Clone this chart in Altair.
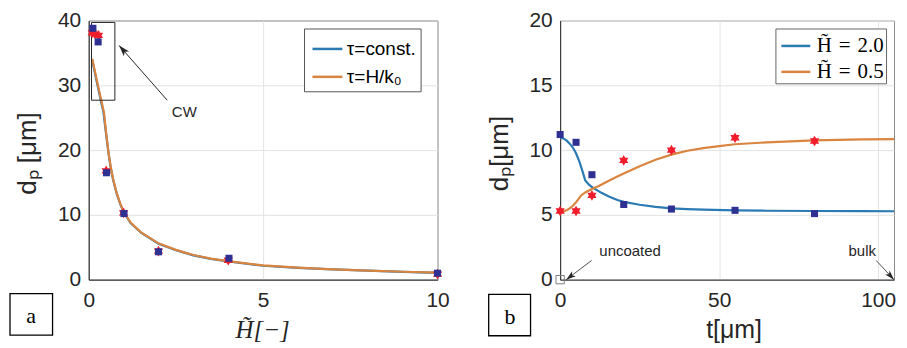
import altair as alt
import pandas as pd

BLUE = "#2a7ab3"
ORANGE = "#d9843f"
NAVY = "#2e3192"
RED = "#f01e2c"
AX = "#262626"
GRID = "#e3e3e3"
SANS = "Liberation Sans"
SERIF = "Liberation Serif"

STAR = ("M0,-1L0.2887,-0.5L0.866,-0.5L0.5774,0L0.866,0.5L0.2887,0.5L0,1"
        "L-0.2887,0.5L-0.866,0.5L-0.5774,0L-0.866,-0.5L-0.2887,-0.5Z")
ARROW = "M0,0L0.5,1.6L0,1.2L-0.5,1.6Z"

# ---------------- panel a data ----------------
a_series = ["τ=const.", "τ=H/k₀"]
a_const_x = [0.1, 0.2, 0.3, 0.36, 0.42, 0.5, 0.57, 0.63, 0.7, 0.8, 0.9, 1.0, 1.2, 1.5,
             2.0, 2.5, 3.0, 3.5, 4.0, 5.0, 6.0, 7.0, 8.0, 9.0, 10.0]
a_const_y = [33.9, 31.3, 28.8, 27.3, 25.9, 22.4, 19.4, 17.3, 15.4, 13.3, 11.7, 10.45, 8.75, 7.25,
             5.55, 4.55, 3.75, 3.2, 2.8, 2.15, 1.82, 1.58, 1.38, 1.2, 1.06]
a_hk_x = [0.1, 0.2, 0.3, 0.38, 0.44, 0.5, 0.57, 0.63, 0.7, 0.8, 0.9, 1.0, 1.2, 1.5,
          2.0, 2.5, 3.0, 3.5, 4.0, 5.0, 6.0, 7.0, 8.0, 9.0, 10.0]
a_hk_y = [34.1, 31.6, 29.1, 27.2, 25.7, 22.6, 19.5, 17.4, 15.5, 13.4, 11.8, 10.5, 8.8, 7.3,
          5.6, 4.6, 3.8, 3.25, 2.85, 2.2, 1.85, 1.6, 1.4, 1.22, 1.08]
a_sq_x = [0.12, 0.27, 0.51, 1.01, 2.0, 4.02, 10.0]
a_sq_y = [38.8, 36.7, 16.5, 10.2, 4.3, 3.3, 1.0]
a_st_x = [0.1, 0.18, 0.28, 0.5, 1.0, 2.0, 4.0, 10.0]
a_st_y = [38.1, 37.9, 37.7, 16.8, 10.3, 4.4, 3.0, 0.85]

# ---------------- panel b data ----------------
SP = "\u2004"
b_series = ["H\u0303" + SP + "=" + SP + "2.0", "H\u0303" + SP + "=" + SP + "0.5"]
b_h2_x = [0, 1, 2, 3, 4, 5, 6, 7, 7.9, 9, 10, 11.3, 13, 15.5, 18, 20, 25, 30, 35, 40, 45,
          55, 65, 80, 95, 105]
b_h2_y = [10.95, 10.9, 10.75, 10.5, 10.2, 9.75, 9.15, 8.4, 7.65, 7.35, 7.15, 6.95, 6.7, 6.4,
          6.15, 6.0, 5.78, 5.62, 5.5, 5.44, 5.4, 5.35, 5.32, 5.3, 5.29, 5.28]
b_h05_x = [0, 1, 2, 3, 4, 5, 6.6, 8, 10, 12.3, 15, 17.5, 20, 25, 30, 35, 40, 45, 50, 55, 65,
           80, 95, 105]
b_h05_y = [5.2, 5.25, 5.35, 5.5, 5.7, 5.97, 6.5, 6.75, 7.0, 7.25, 7.6, 7.9, 8.2, 8.75, 9.25,
           9.65, 9.95, 10.15, 10.3, 10.45, 10.6, 10.75, 10.82, 10.85]
b_sq_x = [0, 5, 10, 20, 35, 55, 80]
b_sq_y = [11.2, 10.6, 8.1, 5.8, 5.45, 5.35, 5.1]
b_st_x = [0, 5, 10, 20, 35, 55, 80]
b_st_y = [5.3, 5.3, 6.5, 9.2, 10.0, 10.95, 10.7]


def xenc(domain, vals, title, serif=False):
    return alt.X("x:Q", scale=alt.Scale(domain=domain, nice=False, zero=False),
                 axis=alt.Axis(values=vals, title=title, grid=True, gridColor=GRID,
                               ticks=False, domainColor=AX, labelFont=SANS,
                               labelFontSize=21, labelColor=AX, labelPadding=10,
                               labelFlush=False, labelOverlap=False,
                               titleFont=SERIF if serif else SANS,
                               titleFontStyle="italic" if serif else "normal",
                               titleFontSize=25, titleFontWeight="normal", titleColor=AX,
                               titleBaseline="alphabetic", titleY=58, titleX=174))


def yenc(domain, vals, title):
    return alt.Y("y:Q", scale=alt.Scale(domain=domain, nice=False, zero=False),
                 axis=alt.Axis(values=vals, title=title, grid=True, gridColor=GRID,
                               ticks=False, domainColor=AX, labelFont=SANS,
                               labelFontSize=21, labelColor=AX, labelPadding=8,
                               labelOverlap=False, titleFont=SANS, titleFontSize=26,
                               titleFontWeight="normal", titleColor=AX, titleAngle=270,
                               titleBaseline="alphabetic", titleAlign="center",
                               titleX=-53, titleY=133))


def lines_df(xs, ys, s):
    return pd.DataFrame({"x": xs, "y": ys, "s": s})


one = pd.DataFrame({"k": [0]})

# ---------------- panel a ----------------
AXD, AXV, AXT = [0, 10], [0, 5, 10], "H\u0303[\u2212]"
AYD, AYV, AYT = [0, 40], [0, 10, 20, 30, 40], "dₚ [μm]"

a_color = alt.Color("s:N", scale=alt.Scale(domain=a_series, range=[BLUE, ORANGE]),
                    legend=alt.Legend(title=None, orient="none", legendX=216, legendY=8,
                                      direction="vertical", symbolType="stroke",
                                      symbolSize=900, symbolStrokeWidth=2.5,
                                      symbolOffset=3,
                                      labelFont=SANS, labelFontSize=19, labelColor="#000",
                                      labelOffset=3, padding=4, rowPadding=1,
                                      strokeColor="#555", fillColor="white",
                                      labelLimit=300))

a_l1 = alt.Chart(lines_df(a_const_x, a_const_y, a_series[0])).mark_line(strokeWidth=2.2).encode(
    x=xenc(AXD, AXV, AXT, True), y=yenc(AYD, AYV, AYT), color=a_color)
a_l2 = alt.Chart(lines_df(a_hk_x, a_hk_y, a_series[1])).mark_line(strokeWidth=2.2).encode(
    x=xenc(AXD, AXV, AXT, True), y=yenc(AYD, AYV, AYT), color=a_color)
a_st = alt.Chart(pd.DataFrame({"x": a_st_x, "y": a_st_y})).mark_point(
    shape=STAR, filled=True, color=RED, size=115, opacity=1).encode(
    x=xenc(AXD, AXV, AXT, True), y=yenc(AYD, AYV, AYT))
a_sq = alt.Chart(pd.DataFrame({"x": a_sq_x, "y": a_sq_y})).mark_point(
    shape="square", filled=True, color=NAVY, size=50, opacity=1).encode(
    x=xenc(AXD, AXV, AXT, True), y=yenc(AYD, AYV, AYT))

a_cwbox = alt.Chart(pd.DataFrame({"x": [0.08], "x2": [0.75], "y": [27.7], "y2": [39.7]})).mark_rect(
    fillOpacity=0, stroke=AX, strokeWidth=1).encode(
    x=xenc(AXD, AXV, AXT, True), x2="x2:Q", y=yenc(AYD, AYV, AYT), y2="y2:Q")
a_arrow = alt.Chart(pd.DataFrame({"x": [2.25], "y": [27.7], "x2": [0.87], "y2": [36.15]})).mark_rule(
    color=AX, strokeWidth=1).encode(
    x=xenc(AXD, AXV, AXT, True), y=yenc(AYD, AYV, AYT), x2="x2:Q", y2="y2:Q")
a_head = alt.Chart(pd.DataFrame({"x": [0.87], "y": [36.15]})).mark_point(
    shape=ARROW, filled=True, color=AX, size=200, angle=318.7, opacity=1).encode(
    x=xenc(AXD, AXV, AXT, True), y=yenc(AYD, AYV, AYT))
a_cw = alt.Chart(pd.DataFrame({"x": [2.74], "y": [25.95], "t": ["CW"]})).mark_text(
    font=SANS, fontSize=15, color=AX, align="center", baseline="middle").encode(
    x=xenc(AXD, AXV, AXT, True), y=yenc(AYD, AYV, AYT), text="t:N")

a_lbox = alt.Chart(one).mark_rect(fillOpacity=0, stroke="#000", strokeWidth=1.3).encode(
    x=alt.value(-79), x2=alt.value(-36.3), y=alt.value(274), y2=alt.value(315.6))
a_ltxt = alt.Chart(one).mark_text(font=SERIF, fontSize=22, color="#000", align="center",
                                  baseline="alphabetic").encode(
    x=alt.value(-57.7), y=alt.value(303.5), text=alt.value("a"))

panel_a = alt.layer(a_l1, a_l2, a_cwbox, a_arrow, a_head, a_cw, a_st, a_sq,
                    a_lbox, a_ltxt).properties(
    width=350, height=260, view=alt.ViewBackground(stroke="#444", strokeWidth=1))

# ---------------- panel b ----------------
BXD, BXV, BXT = [0, 105], [0, 50, 100], "t[μm]"
BYD, BYV, BYT = [0, 20], [0, 5, 10, 15, 20], "dₚ[μm]"

b_color = alt.Color("s:N", scale=alt.Scale(domain=b_series, range=[BLUE, ORANGE]),
                    legend=alt.Legend(title=None, orient="none", legendX=216, legendY=8,
                                      direction="vertical", symbolType="stroke",
                                      symbolSize=841, symbolStrokeWidth=2.5,
                                      symbolOffset=3,
                                      labelFont=SERIF, labelFontSize=21, labelColor="#000",
                                      labelOffset=5, padding=1.5, rowPadding=0,
                                      strokeColor="#666", fillColor="white",
                                      labelLimit=300))

b_l1 = alt.Chart(lines_df(b_h2_x, b_h2_y, b_series[0])).mark_line(strokeWidth=2.2).encode(
    x=xenc(BXD, BXV, BXT), y=yenc(BYD, BYV, BYT), color=b_color)
b_l2 = alt.Chart(lines_df(b_h05_x, b_h05_y, b_series[1])).mark_line(strokeWidth=2.2).encode(
    x=xenc(BXD, BXV, BXT), y=yenc(BYD, BYV, BYT), color=b_color)
b_st = alt.Chart(pd.DataFrame({"x": b_st_x, "y": b_st_y})).mark_point(
    shape=STAR, filled=True, color=RED, size=115, opacity=1).encode(
    x=xenc(BXD, BXV, BXT), y=yenc(BYD, BYV, BYT))
b_sq = alt.Chart(pd.DataFrame({"x": b_sq_x, "y": b_sq_y})).mark_point(
    shape="square", filled=True, color=NAVY, size=50, opacity=1).encode(
    x=xenc(BXD, BXV, BXT), y=yenc(BYD, BYV, BYT))
b_unc = alt.Chart(pd.DataFrame({"x": [0], "y": [0]})).mark_point(
    shape="square", filled=False, color="#808080", size=70, strokeWidth=1, opacity=1).encode(
    x=xenc(BXD, BXV, BXT), y=yenc(BYD, BYV, BYT))
b_arrows = alt.Chart(pd.DataFrame({"x": [9.9, 99.4], "y": [1.48, 1.48],
                                   "x2": [1.9, 105.0], "y2": [0.0, 0.0]})).mark_rule(
    color=AX, strokeWidth=0.8).encode(
    x=xenc(BXD, BXV, BXT), y=yenc(BYD, BYV, BYT), x2="x2:Q", y2="y2:Q")
b_head1 = alt.Chart(pd.DataFrame({"x": [1.9], "y": [0.0]})).mark_point(
    shape=ARROW, filled=True, color=AX, size=150, angle=233, opacity=1).encode(
    x=xenc(BXD, BXV, BXT), y=yenc(BYD, BYV, BYT))
b_head2 = alt.Chart(pd.DataFrame({"x": [105.0], "y": [0.0]})).mark_point(
    shape=ARROW, filled=True, color=AX, size=150, angle=137, opacity=1).encode(
    x=xenc(BXD, BXV, BXT), y=yenc(BYD, BYV, BYT))
b_txt = alt.Chart(pd.DataFrame({"x": [22.0, 95.0], "y": [2.2, 2.2],
                                "t": ["uncoated", "bulk"]})).mark_text(
    font=SANS, fontSize=15, color=AX, align="center", baseline="middle").encode(
    x=xenc(BXD, BXV, BXT), y=yenc(BYD, BYV, BYT), text="t:N")

b_lbox = alt.Chart(one).mark_rect(fillOpacity=0, stroke="#000", strokeWidth=1.3).encode(
    x=alt.value(-71.7), x2=alt.value(-29.7), y=alt.value(274.7), y2=alt.value(316.3))
b_ltxt = alt.Chart(one).mark_text(font=SERIF, fontSize=22, color="#000", align="center",
                                  baseline="alphabetic").encode(
    x=alt.value(-50.3), y=alt.value(304.5), text=alt.value("b"))

panel_b = alt.layer(b_l1, b_l2, b_arrows, b_head1, b_head2, b_txt, b_unc, b_st, b_sq,
                    b_lbox, b_ltxt).properties(
    width=335, height=260, view=alt.ViewBackground(stroke="#8c8c8c", strokeWidth=1))

chart = alt.hconcat(panel_a, panel_b, spacing=123, bounds="flush").resolve_scale(
    color="independent").properties(
    padding={"left": 0, "top": 0, "right": 0, "bottom": 0}, background="white")

chart.save("out.html", embed_options={"renderer": "svg", "actions": False})
